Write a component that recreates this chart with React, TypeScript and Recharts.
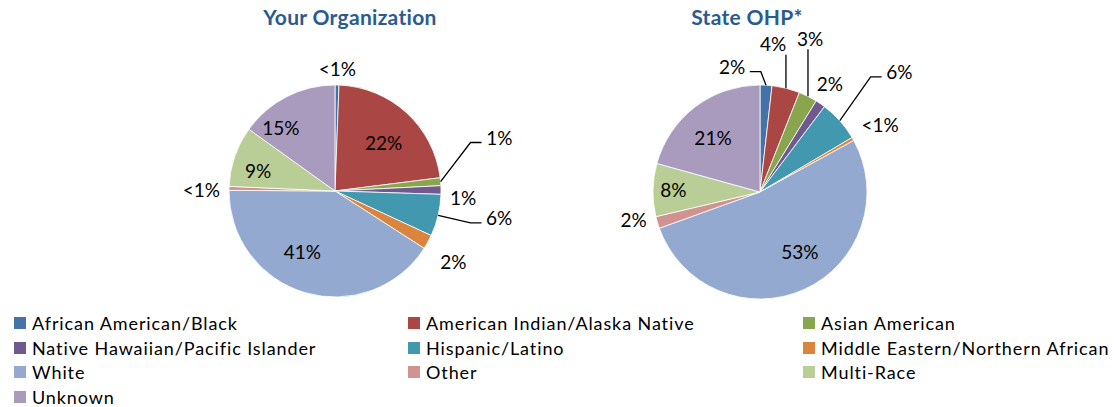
import { Cell, Pie, PieChart } from "recharts";

const categories = [
  "African American/Black",
  "American Indian/Alaska Native",
  "Asian American",
  "Native Hawaiian/Pacific Islander",
  "Hispanic/Latino",
  "Middle Eastern/Northern African",
  "White",
  "Other",
  "Multi-Race",
  "Unknown",
];

const orgValues = [0.6, 22.4, 1.2, 1.3, 6.4, 2.2, 41.0, 0.6, 9.2, 15.1];
const orgLabels = ["<1%", "22%", "1%", "1%", "6%", "2%", "41%", "<1%", "9%", "15%"];

const stateValues = [1.8, 4.2, 2.8, 1.5, 6.2, 0.5, 52.5, 1.8, 8.0, 20.7];
const stateLabels = ["2%", "4%", "3%", "2%", "6%", "<1%", "53%", "2%", "8%", "21%"];

const colors = [
  "#4572A7",
  "#AA4643",
  "#89A54E",
  "#71588F",
  "#4198AF",
  "#DB843D",
  "#93A9CF",
  "#D19392",
  "#B9CD96",
  "#A99BBD",
];

// label placement: k = distance in radii, rot = clockwise degrees from slice middle
type LabelPos = { k: number; rot: number; lead?: "h" | "v" };

const orgLayout: LabelPos[] = [
  { k: 1.16, rot: 0 },
  { k: 0.65, rot: 2.5 },
  { k: 1.63, rot: -13, lead: "h" },
  { k: 1.21, rot: 3.5 },
  { k: 1.57, rot: -4, lead: "h" },
  { k: 1.3, rot: 2 },
  { k: 0.65, rot: 11.8 },
  { k: 1.26, rot: -1 },
  { k: 0.75, rot: -4.4 },
  { k: 0.79, rot: -13 },
];

const stateLayout: LabelPos[] = [
  { k: 1.2, rot: -15.8, lead: "h" },
  { k: 1.39, rot: -9, lead: "v" },
  { k: 1.51, rot: -8.6, lead: "v" },
  { k: 1.21, rot: -1.7 },
  { k: 1.72, rot: 1, lead: "h" },
  { k: 1.29, rot: 0.2 },
  { k: 0.67, rot: -9.4 },
  { k: 1.21, rot: 4.2 },
  { k: 0.81, rot: 0.3 },
  { k: 0.67, rot: -3.7 },
];

const FONT = "Lato, 'Open Sans', sans-serif";
const RAD = Math.PI / 180;

const polar = (cx: number, cy: number, r: number, angle: number) => ({
  x: cx + Math.cos(-angle * RAD) * r,
  y: cy + Math.sin(-angle * RAD) * r,
});

function makeLabel(texts: string[], layout: LabelPos[]) {
  return (props: any) => {
    const { cx, cy, midAngle, outerRadius, index } = props;
    const pos = layout[index];
    const text = texts[index];
    const L = polar(cx, cy, outerRadius * pos.k, midAngle - pos.rot);
    const P = polar(cx, cy, outerRadius, midAngle);
    const w = 11 * (text.length - 1) + 16.5;
    let line = null;
    if (pos.lead === "h") {
      const right = L.x > P.x;
      const ex = right ? L.x - w / 2 - 15 : L.x + w / 2 + 15;
      const hx = right ? L.x - w / 2 - 4 : L.x + w / 2 + 4;
      const y = L.y + 5;
      line = <polyline points={`${P.x},${P.y} ${ex},${y} ${hx},${y}`} fill="none" stroke="#000" strokeWidth={1.3} />;
    } else if (pos.lead === "v") {
      line = <line x1={P.x} y1={P.y} x2={P.x} y2={L.y + 11} stroke="#000" strokeWidth={1.3} />;
    }
    return (
      <g key={`lbl-${index}`}>
        {line}
        <text
          x={L.x}
          y={L.y}
          textAnchor="middle"
          dominantBaseline="central"
          fontSize={19}
          fontFamily={FONT}
          fill="#000"
        >
          {text}
        </text>
      </g>
    );
  };
}

const orgData = categories.map((name, i) => ({ name, value: orgValues[i] }));
const stateData = categories.map((name, i) => ({ name, value: stateValues[i] }));

const legendCols = [14, 408, 803];

const titleStyle = {
  position: "absolute" as const,
  width: 240,
  top: 4,
  textAlign: "center" as const,
  fontWeight: 700,
  fontSize: 21,
  letterSpacing: 0.3,
  color: "#2B5B8E",
};

export default function App() {
  return (
    <div style={{ position: "absolute", left: 0, top: 0, width: 1114, height: 407, background: "#fff", fontFamily: FONT }}>
      <div style={{ ...titleStyle, left: 230 }}>Your Organization</div>
      <div style={{ ...titleStyle, left: 627 }}>State OHP*</div>
      <div style={{ position: "absolute", left: 0, top: 0 }}>
        <PieChart width={1114} height={310} margin={{ top: 0, right: 0, bottom: 0, left: 0 }}>
          <Pie
            data={orgData}
            dataKey="value"
            cx={335}
            cy={191}
            outerRadius={106}
            startAngle={90}
            endAngle={-270}
            stroke="#fff"
            strokeWidth={0.8}
            label={makeLabel(orgLabels, orgLayout)}
            labelLine={false}
            isAnimationActive={false}
          >
            {orgData.map((d, i) => (
              <Cell key={d.name} fill={colors[i]} />
            ))}
          </Pie>
          <Pie
            data={stateData}
            dataKey="value"
            cx={760}
            cy={192}
            outerRadius={107}
            startAngle={90}
            endAngle={-270}
            stroke="#fff"
            strokeWidth={0.8}
            label={makeLabel(stateLabels, stateLayout)}
            labelLine={false}
            isAnimationActive={false}
          >
            {stateData.map((d, i) => (
              <Cell key={d.name} fill={colors[i]} />
            ))}
          </Pie>
        </PieChart>
      </div>
      {categories.map((name, i) => {
        const row = Math.floor(i / 3);
        const col = i % 3;
        return (
          <div
            key={name}
            style={{
              position: "absolute",
              left: legendCols[col],
              top: 311 + row * 24.7,
              height: 24,
              display: "flex",
              alignItems: "center",
              fontSize: 18,
              letterSpacing: 0.9,
              color: "#000",
              whiteSpace: "nowrap",
            }}
          >
            <span style={{ display: "inline-block", width: 12, height: 12, background: colors[i], marginRight: 6 }} />
            {name}
          </div>
        );
      })}
    </div>
  );
}
